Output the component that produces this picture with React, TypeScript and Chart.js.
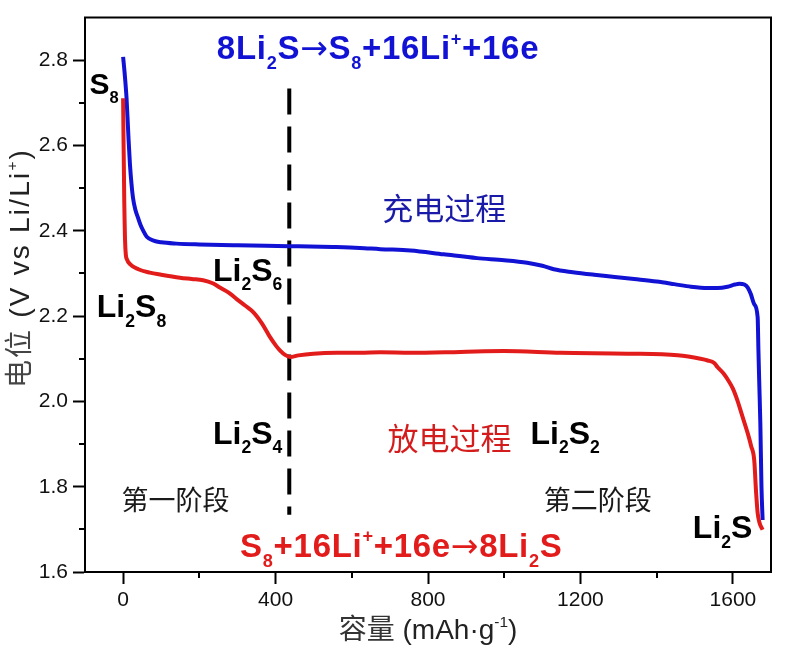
import React, { useEffect, useRef } from 'react';
import { Chart, registerables } from 'chart.js';

Chart.register(...registerables);

// ---------------- data ----------------
const chargeCapacity = [0, 4, 9, 14, 18, 22, 26, 32, 39, 46, 53, 62, 80, 100, 140, 200, 300, 436, 550, 621, 675, 754, 841, 929, 1000, 1060, 1100, 1130, 1180, 1236, 1290, 1341, 1400, 1446, 1490, 1534, 1560, 1586, 1605, 1617, 1630, 1639, 1647, 1656, 1665, 1667, 1669, 1672, 1675, 1678];
const chargeVoltage = [2.808, 2.77, 2.711, 2.62, 2.555, 2.51, 2.477, 2.45, 2.431, 2.413, 2.4, 2.386, 2.377, 2.373, 2.37, 2.368, 2.366, 2.364, 2.362, 2.36, 2.357, 2.354, 2.345, 2.336, 2.331, 2.325, 2.318, 2.31, 2.303, 2.297, 2.292, 2.287, 2.281, 2.275, 2.269, 2.266, 2.266, 2.269, 2.274, 2.276, 2.274, 2.267, 2.252, 2.228, 2.197, 2.12, 2.05, 1.95, 1.8, 1.722];

const dischargeCapacity = [0, 1, 2, 3, 4, 5, 7, 10, 18, 40, 70, 100, 149, 180, 210, 235, 254, 277, 298, 320, 342, 365, 386, 400, 412, 425, 438, 460, 499, 560, 622, 675, 754, 885, 999, 1148, 1323, 1455, 1515, 1534, 1551, 1560, 1575, 1586, 1600, 1612, 1625, 1639, 1648, 1656, 1661, 1665, 1670, 1678];
const dischargeVoltage = [2.711, 2.62, 2.55, 2.47, 2.42, 2.38, 2.345, 2.333, 2.322, 2.31, 2.302, 2.297, 2.29, 2.287, 2.284, 2.277, 2.267, 2.255, 2.24, 2.225, 2.209, 2.182, 2.15, 2.132, 2.119, 2.109, 2.104, 2.108, 2.112, 2.114, 2.114, 2.115, 2.114, 2.116, 2.118, 2.114, 2.112, 2.108, 2.1, 2.096, 2.09, 2.08, 2.066, 2.052, 2.03, 2.002, 1.965, 1.925, 1.895, 1.862, 1.785, 1.738, 1.715, 1.699];

const dividerCapacity = [436, 436];
const dividerVoltage = [2.734, 1.734];

const xRange = [-100, 1700];
const yRange = [1.6, 2.9];
const xMajorTicks = [0, 400, 800, 1200, 1600];
const xMinorTicks = [200, 600, 1000, 1400];
const yMajorTicks = [1.6, 1.8, 2.0, 2.2, 2.4, 2.6, 2.8];
const yMinorTicks = [1.7, 1.9, 2.1, 2.3, 2.5, 2.7];

type Seg = { t: string; s?: 'sub' | 'sup'; f?: string; w?: string; c?: string };

const xTitle: Seg[] = [{ t: '容量', c: '#333' }, { t: ' (mAh·g' }, { t: '-1', s: 'sup' }, { t: ')' }];
const yTitle: Seg[] = [{ t: '电位', c: '#444' }, { t: ' (V vs Li/Li' }, { t: '+', s: 'sup' }, { t: ')' }];

// ---------------- styles ----------------
const BLUE = '#1212d4';
const RED = '#e21b1b';
const LATIN = '"Liberation Sans", Arial, "Noto Sans CJK SC", sans-serif';
const CJK = '"Noto Sans CJK SC", sans-serif';
const ARROW = '"DejaVu Sans", sans-serif';

type Annot = {
  x: number; y: number; segs: Seg[]; size: number; weight: string;
  family: string; color: string; baseline: CanvasTextBaseline; ls?: number;
};

const annotations: Annot[] = [
  { x: 246, y: 2.802, segs: [{ t: '8Li' }, { t: '2', s: 'sub' }, { t: 'S' }, { t: '→', f: ARROW, w: 'normal' }, { t: 'S' }, { t: '8', s: 'sub' }, { t: '+16Li' }, { t: '+', s: 'sup' }, { t: '+16e' }], size: 33, weight: 'bold', family: LATIN, color: BLUE, baseline: 'alphabetic', ls: 0.7 },
  { x: 307, y: 1.636, segs: [{ t: 'S' }, { t: '8', s: 'sub' }, { t: '+16Li' }, { t: '+', s: 'sup' }, { t: '+16e' }, { t: '→', f: ARROW, w: 'normal' }, { t: '8Li' }, { t: '2', s: 'sub' }, { t: 'S' }], size: 33, weight: 'bold', family: LATIN, color: RED, baseline: 'alphabetic', ls: 0.7 },
  { x: -88, y: 2.722, segs: [{ t: 'S' }, { t: '8', s: 'sub' }], size: 30, weight: 'bold', family: LATIN, color: '#000', baseline: 'alphabetic' },
  { x: 236, y: 2.283, segs: [{ t: 'Li' }, { t: '2', s: 'sub' }, { t: 'S' }, { t: '6', s: 'sub' }], size: 32, weight: 'bold', family: LATIN, color: '#000', baseline: 'alphabetic' },
  { x: -69, y: 2.197, segs: [{ t: 'Li' }, { t: '2', s: 'sub' }, { t: 'S' }, { t: '8', s: 'sub' }], size: 32, weight: 'bold', family: LATIN, color: '#000', baseline: 'alphabetic' },
  { x: 236, y: 1.901, segs: [{ t: 'Li' }, { t: '2', s: 'sub' }, { t: 'S' }, { t: '4', s: 'sub' }], size: 32, weight: 'bold', family: LATIN, color: '#000', baseline: 'alphabetic' },
  { x: 1069, y: 1.901, segs: [{ t: 'Li' }, { t: '2', s: 'sub' }, { t: 'S' }, { t: '2', s: 'sub' }], size: 32, weight: 'bold', family: LATIN, color: '#000', baseline: 'alphabetic' },
  { x: 1495, y: 1.679, segs: [{ t: 'Li' }, { t: '2', s: 'sub' }, { t: 'S' }], size: 32, weight: 'bold', family: LATIN, color: '#000', baseline: 'alphabetic' },
  { x: 680, y: 2.452, segs: [{ t: '充电过程' }], size: 31, weight: 'normal', family: CJK, color: '#1a1aa8', baseline: 'middle' },
  { x: 694, y: 1.914, segs: [{ t: '放电过程' }], size: 31, weight: 'normal', family: CJK, color: '#d41c1c', baseline: 'middle' },
  { x: -4, y: 1.769, segs: [{ t: '第一阶段' }], size: 27, weight: 'normal', family: CJK, color: '#1a1a1a', baseline: 'middle' },
  { x: 1104, y: 1.769, segs: [{ t: '第二阶段' }], size: 27, weight: 'normal', family: CJK, color: '#1a1a1a', baseline: 'middle' },
];

function segFont(seg: Seg, size: number, weight: string, family: string) {
  const s = seg.s ? size * 0.55 : size;
  return `${seg.w || weight} ${s}px ${seg.f || family}`;
}

function drawRich(ctx: CanvasRenderingContext2D, segs: Seg[], x: number, y: number, size: number, weight: string, family: string, color: string, baseline: CanvasTextBaseline, align: 'left' | 'center', ls = 0) {
  const anyCtx = ctx as any;
  anyCtx.letterSpacing = `${ls}px`;
  let total = 0;
  for (const seg of segs) {
    ctx.font = segFont(seg, size, weight, family);
    total += ctx.measureText(seg.t).width;
  }
  let cx = align === 'center' ? x - total / 2 : x;
  ctx.textAlign = 'left';
  ctx.textBaseline = baseline;
  for (const seg of segs) {
    ctx.font = segFont(seg, size, weight, family);
    ctx.fillStyle = seg.c || color;
    const dy = seg.s === 'sub' ? size * 0.3 : seg.s === 'sup' ? -size * 0.43 : 0;
    ctx.fillText(seg.t, cx, y + dy);
    cx += ctx.measureText(seg.t).width;
  }
  anyCtx.letterSpacing = '0px';
}

const decorPlugin = {
  id: 'decor',
  afterDatasetsDraw(chart: any) {
    const ctx: CanvasRenderingContext2D = chart.ctx;
    const xs = chart.scales.x;
    const ys = chart.scales.y;
    const { left, right, top, bottom } = chart.chartArea;
    ctx.save();
    ctx.strokeStyle = '#000';
    ctx.lineWidth = 2;
    ctx.beginPath();
    ctx.moveTo(left - 1, top);
    ctx.lineTo(right, top);
    ctx.lineTo(right, bottom + 1);
    ctx.stroke();
    ctx.beginPath();
    for (const v of xMinorTicks) {
      const px = Math.round(xs.getPixelForValue(v));
      ctx.moveTo(px, bottom);
      ctx.lineTo(px, bottom + 6);
    }
    for (const v of yMinorTicks) {
      const py = Math.round(ys.getPixelForValue(v));
      ctx.moveTo(left, py);
      ctx.lineTo(left - 6, py);
    }
    ctx.stroke();

    for (const a of annotations) {
      drawRich(ctx, a.segs, xs.getPixelForValue(a.x), ys.getPixelForValue(a.y), a.size, a.weight, a.family, a.color, a.baseline, 'left', a.ls || 0);
    }

    // axis titles
    drawRich(ctx, xTitle, (left + right) / 2, 639, 28, 'normal', LATIN, '#222', 'alphabetic', 'center');
    ctx.save();
    ctx.translate(29, 268);
    ctx.rotate(-Math.PI / 2);
    drawRich(ctx, yTitle, 0, 0, 28, 'normal', LATIN, '#222', 'alphabetic', 'center', 2.2);
    ctx.restore();
    ctx.restore();
  },
};

export default function App() {
  const ref = useRef<HTMLCanvasElement | null>(null);
  useEffect(() => {
    if (!ref.current) return;
    const toPts = (xs: number[], ys: number[]) => xs.map((x, i) => ({ x, y: ys[i] }));
    const chart = new Chart(ref.current, {
      type: 'line',
      data: {
        datasets: [
          {
            label: 'discharge',
            data: toPts(dischargeCapacity, dischargeVoltage),
            borderColor: RED,
            borderWidth: 4,
            pointRadius: 0,
            cubicInterpolationMode: 'monotone',
            order: 0,
          },
          {
            label: 'charge',
            data: toPts(chargeCapacity, chargeVoltage),
            borderColor: BLUE,
            borderWidth: 4,
            pointRadius: 0,
            cubicInterpolationMode: 'monotone',
            order: 1,
          },
          {
            label: 'divider',
            data: toPts(dividerCapacity, dividerVoltage),
            borderColor: '#000',
            borderWidth: 4,
            borderDash: [26, 12],
            pointRadius: 0,
            tension: 0,
            order: 2,
          },
        ],
      },
      options: {
        responsive: false,
        animation: false,
        events: [],
        layout: { padding: { left: 0, top: 16, right: 17, bottom: 0 } },
        plugins: { legend: { display: false }, tooltip: { enabled: false }, title: { display: false } },
        scales: {
          x: {
            type: 'linear',
            min: xRange[0],
            max: xRange[1],
            afterBuildTicks: (axis: any) => { axis.ticks = xMajorTicks.map((v) => ({ value: v })); },
            afterFit: (axis: any) => { axis.height = 80; },
            grid: { display: true, drawOnChartArea: false, drawTicks: true, tickLength: 12, tickWidth: 2, tickColor: '#000', color: '#000' },
            border: { display: true, color: '#000', width: 2 },
            ticks: { color: '#111', font: { family: LATIN, size: 21 }, padding: 4, maxRotation: 0, autoSkip: false, callback: (v: any) => String(v) },
          },
          y: {
            type: 'linear',
            min: yRange[0],
            max: yRange[1],
            afterBuildTicks: (axis: any) => { axis.ticks = yMajorTicks.map((v) => ({ value: v })); },
            afterFit: (axis: any) => { axis.width = 85; },
            grid: { display: true, drawOnChartArea: false, drawTicks: true, tickLength: 12, tickWidth: 2, tickColor: '#000', color: '#000' },
            border: { display: true, color: '#000', width: 2 },
            ticks: { color: '#111', font: { family: LATIN, size: 21 }, padding: 5, autoSkip: false, callback: (v: any) => Number(v).toFixed(1) },
          },
        },
      },
      plugins: [decorPlugin],
    } as any);
    return () => chart.destroy();
  }, []);
  return (
    <div style={{ position: 'fixed', left: 0, top: 0, width: 788, height: 652, background: '#fff' }}>
      <canvas ref={ref} width={788} height={652} style={{ display: 'block', width: 788, height: 652 }} />
    </div>
  );
}
